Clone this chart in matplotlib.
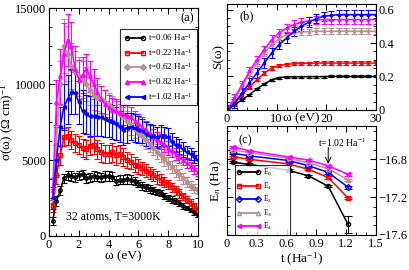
import matplotlib
matplotlib.use("Agg")
import matplotlib.pyplot as plt
from matplotlib.ticker import MultipleLocator
from matplotlib.lines import Line2D

plt.rcParams['font.family'] = ['Liberation Serif', 'DejaVu Serif']
plt.rcParams['mathtext.fontset'] = 'custom'
plt.rcParams['mathtext.rm'] = 'Liberation Serif'
plt.rcParams['mathtext.it'] = 'Liberation Serif:italic'

# ---------------- data panel (a) ----------------
omega = [0.25, 0.5, 0.75, 1.0, 1.25, 1.5, 1.75, 2.0, 2.25, 2.5, 2.75, 3.0, 3.25, 3.5, 3.75,
         4.0, 4.25, 4.5, 4.75, 5.0, 5.25, 5.5, 5.75, 6.0, 6.25, 6.5, 6.75, 7.0, 7.25, 7.5,
         7.75, 8.0, 8.25, 8.5, 8.75, 9.0, 9.25, 9.5, 9.75, 10.0]
sig_006 = [1000, 2300, 3000, 3800, 4000, 3950, 3850, 4000, 4050, 3800, 3850, 3950, 3900, 3850, 3950,
           3950, 3900, 3650, 3700, 3700, 3750, 3700, 3600, 3450, 3300, 3200, 3100, 3000, 2900, 2800,
           2650, 2500, 2400, 2300, 2150, 2000, 1850, 1700, 1550, 1400]
sig_022 = [2000, 4000, 5300, 6500, 6600, 6300, 6100, 6000, 5800, 5700, 5900, 6000, 5700, 5500, 5400,
           5400, 5500, 5300, 5400, 5200, 5000, 4900, 4700, 4600, 4450, 4300, 4150, 4000, 3850, 3700,
           3550, 3400, 3200, 3000, 2800, 2600, 2400, 2200, 1950, 1700]
sig_062 = [2500, 6000, 10000, 12500, 12000, 11200, 10800, 10500, 10300, 10000, 9600, 9300, 9100, 9000, 8800,
           8600, 8400, 8200, 8000, 7800, 7550, 7300, 7050, 6800, 6550, 6300, 6050, 5800, 5550, 5300,
           5050, 4800, 4550, 4300, 4050, 3800, 3550, 3300, 3150, 3000]
sig_082 = [3000, 8800, 10500, 12000, 12900, 12500, 11000, 10300, 10600, 11000, 10500, 10000, 9500, 9000, 8700,
           8500, 8300, 8200, 8100, 8000, 7900, 7800, 7600, 7400, 7200, 7000, 6750, 6500, 6350, 6200,
           6000, 5800, 5600, 5400, 5200, 5000, 4800, 4600, 4400, 4200]
sig_102 = [2500, 5000, 7200, 8500, 9000, 9500, 9400, 8800, 8200, 8000, 7900, 7900, 7800, 7800, 7700,
           7600, 7500, 7400, 7200, 7000, 7100, 7200, 7100, 7000, 6900, 6700, 6600, 6600, 6500, 6600,
           6600, 6500, 6200, 6000, 5900, 5700, 5500, 5400, 5200, 5000]
err_006 = [250, 300, 300, 300, 300, 300, 300, 300, 300, 300, 300, 300, 300, 300, 300,
           300, 300, 300, 300, 300, 300, 300, 250, 250, 250, 250, 250, 250, 200, 200,
           200, 200, 200, 200, 200, 200, 150, 150, 150, 150]
err_022 = [400, 600, 600, 600, 600, 600, 600, 600, 600, 600, 600, 600, 600, 600, 600,
           600, 600, 600, 600, 600, 500, 500, 500, 500, 450, 450, 400, 400, 400, 350,
           350, 300, 300, 300, 300, 250, 250, 250, 250, 200]
err_062 = [600, 1200, 1500, 1800, 1800, 1500, 1400, 1300, 1200, 1100, 1000, 1000, 900, 900, 800,
           800, 800, 700, 700, 700, 650, 650, 600, 600, 550, 550, 500, 500, 500, 450,
           450, 400, 400, 400, 350, 350, 300, 300, 300, 250]
err_082 = [800, 1500, 1800, 2000, 1700, 1600, 1500, 1300, 1200, 1000, 1000, 1000, 900, 900, 900,
           800, 800, 800, 800, 700, 700, 700, 650, 600, 600, 600, 550, 550, 500, 500,
           450, 450, 400, 400, 400, 350, 350, 300, 300, 250]
err_102 = [700, 1000, 1300, 1500, 1600, 1500, 1400, 1400, 1400, 1300, 1300, 1300, 1200, 1200, 1200,
           1100, 1100, 1100, 1000, 1000, 1000, 900, 900, 900, 800, 800, 800, 700, 700, 700,
           600, 600, 600, 500, 500, 500, 400, 400, 400, 300]
t_labels = ['t=0.06 Ha$^{-1}$', 't=0.22 Ha$^{-1}$', 't=0.62 Ha$^{-1}$', 't=0.82 Ha$^{-1}$', 't=1.02 Ha$^{-1}$']

# ---------------- data panel (b) ----------------
omega_b = [0, 1.5, 3, 4.5, 6, 7.5, 9, 10.5, 12, 13.5, 15, 16.5, 18, 19.5, 21, 22.5, 24, 25.5, 27, 28.5, 30]
S_006 = [0, 0.03, 0.06, 0.09, 0.125, 0.155, 0.18, 0.193, 0.197, 0.198, 0.198, 0.199, 0.199, 0.199,
         0.2, 0.2, 0.2, 0.2, 0.2, 0.2, 0.2]
S_022 = [0, 0.04, 0.09, 0.135, 0.18, 0.22, 0.25, 0.265, 0.272, 0.276, 0.278, 0.279, 0.28, 0.28,
         0.28, 0.28, 0.28, 0.28, 0.28, 0.28, 0.28]
S_062 = [0, 0.06, 0.14, 0.21, 0.28, 0.34, 0.39, 0.425, 0.45, 0.46, 0.465, 0.468, 0.47, 0.47,
         0.47, 0.47, 0.47, 0.47, 0.47, 0.47, 0.47]
S_082 = [0, 0.07, 0.15, 0.23, 0.30, 0.36, 0.42, 0.46, 0.49, 0.51, 0.525, 0.533, 0.538, 0.54,
         0.54, 0.54, 0.54, 0.54, 0.54, 0.54, 0.54]
S_102 = [0, 0.04, 0.10, 0.16, 0.22, 0.28, 0.34, 0.39, 0.43, 0.47, 0.50, 0.525, 0.545, 0.56,
         0.565, 0.57, 0.57, 0.57, 0.57, 0.57, 0.57]
S_err = [0.006, 0.01, 0.018, 0.025, 0.028]

# ---------------- data panel (c) ----------------
t_c = [0.06, 0.22, 0.62, 0.82, 1.02, 1.22]
E0 = [-16.832, -16.854, -16.918, -16.975, -17.086, -17.49]
E1 = [-16.775, -16.80, -16.85, -16.907, -16.993, -17.21]
E2 = [-16.736, -16.764, -16.814, -16.868, -16.94, -17.096]
E3 = [-16.70, -16.73, -16.79, -16.84, -16.90, -17.02]
E4 = [-16.67, -16.71, -16.775, -16.81, -16.868, -16.96]
E0_err = [0.012, 0.012, 0.012, 0.012, 0.012, 0.09]
E_other_err = [0.012, 0.012, 0.012, 0.012, 0.012, 0.015]
E_labels = ['E$_0$', 'E$_1$', 'E$_2$', 'E$_3$', 'E$_4$']

colors = ['black', 'red', '#bc8f8f', 'magenta', 'blue']
markers = ['o', 's', 'D', '^', '<']
mfaces = ['none', 'none', '#bc8f8f', 'magenta', 'blue']

fig = plt.figure(figsize=(4.09, 2.70), dpi=100)

def style(ax):
    ax.tick_params(which='both', direction='in', top=True, right=True, labelsize=9, pad=2)
    ax.tick_params(which='major', length=4)
    ax.tick_params(which='minor', length=2)
    for s in ax.spines.values():
        s.set_linewidth(0.8)

# ---- (a)
axa = fig.add_axes([0.1198, 0.126, 0.3643, 0.844])
sigs = [sig_006, sig_022, sig_062, sig_082, sig_102]
errs = [err_006, err_022, err_062, err_082, err_102]
handles_a = []
for y, e, c, m, f, lab in zip(sigs, errs, colors, markers, mfaces, t_labels):
    axa.errorbar(omega, y, yerr=e, color=c, marker=m, mfc=f, mec=c, ms=2.5, lw=1.1,
                 elinewidth=0.8, capsize=2.5, capthick=0.8)
    handles_a.append(Line2D([], [], color=c, marker=m, mfc=f, mec=c, ms=3, lw=1.3, label=lab))
axa.set_xlim(0, 10)
axa.set_ylim(0, 15000)
axa.xaxis.set_major_locator(MultipleLocator(2))
axa.xaxis.set_minor_locator(MultipleLocator(0.5))
axa.yaxis.set_major_locator(MultipleLocator(5000))
axa.yaxis.set_minor_locator(MultipleLocator(1250))
style(axa)
axa.set_xlabel('ω (eV)', fontsize=9.5, labelpad=0)
axa.set_ylabel('σ(ω) (Ω cm)$^{-1}$', fontsize=9.5, labelpad=-1)
axa.text(9.75, 14300, '(a)', ha='right', va='center', fontsize=9)
axa.text(4.3, 1250, '32 atoms, T=3000K', ha='center', va='center', fontsize=8.5)
leg = axa.legend(handles=handles_a, loc='upper right', bbox_to_anchor=(0.99, 0.91), fontsize=6.5,
                 frameon=True, numpoints=2,
                 fancybox=False, edgecolor='black', handlelength=2.4, borderpad=0.4,
                 labelspacing=0.4, handletextpad=0.3, borderaxespad=0.0)
leg.get_frame().set_linewidth(0.8)

# ---- (b)
axb = fig.add_axes([0.555, 0.593, 0.364, 0.392])
Ss = [S_006, S_022, S_062, S_082, S_102]
for y, e, c in zip(Ss, S_err, colors):
    axb.errorbar(omega_b, y, yerr=e, color=c, marker='s', ms=2, lw=1.1,
                 elinewidth=0.8, capsize=2.5, capthick=0.8)
axb.set_xlim(0, 30)
axb.set_ylim(0, 0.633)
axb.xaxis.set_major_locator(MultipleLocator(10))
axb.xaxis.set_minor_locator(MultipleLocator(2))
axb.yaxis.set_major_locator(MultipleLocator(0.2))
axb.yaxis.set_minor_locator(MultipleLocator(0.05))
style(axb)
axb.yaxis.tick_right()
axb.tick_params(which='both', left=True, labelleft=False, labelright=True)
axb.set_yticks([0, 0.2, 0.4, 0.6])
axb.set_yticklabels(['0', '0.2', '0.4', '0.6'])
axb.set_ylabel('S(ω)', fontsize=9.5, labelpad=2)
axb.yaxis.set_label_position('left')
axb.set_xlabel('ω (eV)', fontsize=9.5, labelpad=-9)
axb.text(4, 0.56, '(b)', ha='center', va='center', fontsize=9)

# ---- (c)
axc = fig.add_axes([0.555, 0.130, 0.364, 0.403])
Es = [E0, E1, E2, E3, E4]
Eerr = [E0_err, E_other_err, E_other_err, E_other_err, E_other_err]
cmark = ['o', 's', 'D', '^', '<']
cface = ['none', 'none', 'none', 'none', 'magenta']
ccol = ['black', 'red', 'blue', '#bc8f8f', 'magenta']
handles_c = []
for y, e, c, m, f, lab in zip(Es, Eerr, ccol, cmark, cface, E_labels):
    axc.errorbar(t_c, y, yerr=e, color=c, marker=m, mfc=f, mec=c, ms=3, lw=1.1,
                 elinewidth=0.8, capsize=3, capthick=0.8)
    handles_c.append(Line2D([], [], color=c, marker=m, mfc=f, mec=c, ms=3, lw=1.3,
                            label=lab + '         '))
axc.set_xlim(0, 1.5)
axc.set_ylim(-17.6, -16.45)
axc.xaxis.set_major_locator(MultipleLocator(0.3))
axc.xaxis.set_minor_locator(MultipleLocator(0.1))
axc.yaxis.set_major_locator(MultipleLocator(0.4))
axc.yaxis.set_minor_locator(MultipleLocator(0.1))
style(axc)
axc.tick_params(which='both', labelleft=False, labelright=True)
axc.set_xticks([0, 0.3, 0.6, 0.9, 1.2, 1.5])
axc.set_xticklabels(['0', '0.3', '0.6', '0.9', '1.2', '1.5'])
axc.set_ylabel('E$_n$ (Ha)', fontsize=9.5, labelpad=2)
axc.set_xlabel('t (Ha$^{-1}$)', fontsize=9.5, labelpad=1)
axc.text(0.18, -16.6, '(c)', ha='center', va='center', fontsize=9)
axc.text(1.16, -16.63, 't=1.02 Ha$^{-1}$', ha='center', va='center', fontsize=7)
axc.annotate('', xy=(1.02, -16.85), xytext=(1.02, -16.675),
             arrowprops=dict(arrowstyle='->', color='black', lw=0.7, shrinkA=0, shrinkB=0))
legc = axc.legend(handles=handles_c, loc='lower left', bbox_to_anchor=(0.05, 0.0), fontsize=5.5,
                  frameon=True, numpoints=2,
                  fancybox=False, edgecolor='black', handlelength=3.0, borderpad=0.3,
                  labelspacing=0.3, handletextpad=0.4, borderaxespad=0.05)
legc.get_frame().set_linewidth(0.8)

fig.savefig('out.png', dpi=100)
